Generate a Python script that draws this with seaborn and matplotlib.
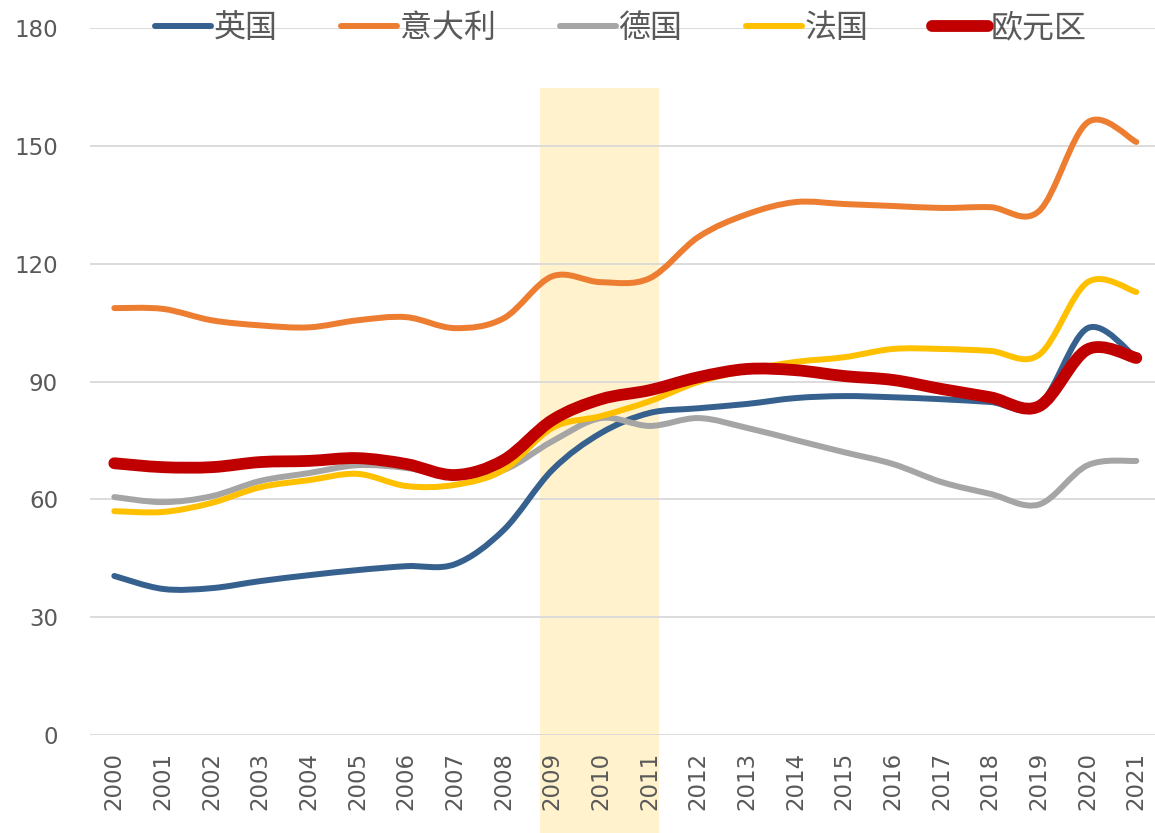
import matplotlib
matplotlib.use("Agg")
import matplotlib.pyplot as plt
from matplotlib.path import Path
from matplotlib.patches import PathPatch
import seaborn as sns
import numpy as np
import pandas as pd

# 数据
years = list(range(2000, 2022))
uk = [40.5, 37.2, 37.4, 39.2, 40.7, 42.0, 43.0, 43.5, 52.2, 67.5, 76.9, 82.0,
      83.2, 84.3, 85.8, 86.3, 86.0, 85.5, 84.8, 83.9, 103.6, 96.0]
italy = [108.7, 108.5, 105.6, 104.3, 103.8, 105.6, 106.4, 103.6, 106.1, 116.8, 115.3, 116.3,
         126.8, 132.6, 135.7, 135.2, 134.7, 134.2, 134.4, 133.4, 156.0, 151.0]
germany = [60.6, 59.3, 60.8, 64.7, 66.7, 68.7, 68.0, 65.9, 67.5, 74.8, 80.7, 78.7,
           80.7, 78.2, 75.1, 72.0, 69.0, 64.4, 61.4, 58.7, 68.7, 69.8]
france = [57.0, 56.8, 59.1, 63.1, 64.9, 66.5, 63.4, 63.7, 67.5, 78.2, 81.2, 85.0,
          89.9, 92.9, 95.0, 96.2, 98.3, 98.3, 97.8, 96.8, 115.3, 112.8]
euro = [69.2, 68.2, 68.2, 69.5, 69.8, 70.5, 69.0, 66.2, 70.0, 80.2, 85.5, 87.8,
        91.1, 93.2, 92.9, 91.4, 90.4, 88.1, 86.0, 83.7, 98.2, 96.0]

names = ["英国", "意大利", "德国", "法国", "欧元区"]
series = [uk, italy, germany, france, euro]
colors = ["#36618F", "#ED7D31", "#A5A5A5", "#FFC000", "#C00000"]
widths = [4.3, 4.3, 4.3, 4.3, 8.5]

crisis_start, crisis_end = 2008.75, 2011.2
yticks = [0, 30, 60, 90, 120, 150, 180]

df = pd.DataFrame({"year": years})
for n, s in zip(names, series):
    df[n] = s

sns.set_style("white")
plt.rcParams['font.family'] = ['DejaVu Sans', 'Noto Sans CJK SC']
text_color = "#595959"


def smooth_path(xy):
    """平滑曲线 (类似 Excel 的平滑线)"""
    pts = np.asarray(xy, dtype=float)
    n = len(pts)
    verts = [pts[0]]
    codes = [Path.MOVETO]
    for i in range(n - 1):
        p_prev = pts[i - 1] if i > 0 else pts[i]
        p_next2 = pts[i + 2] if i + 2 < n else pts[i + 1]
        c1 = pts[i] + (pts[i + 1] - p_prev) / 6.0
        c2 = pts[i + 1] - (p_next2 - pts[i]) / 6.0
        verts += [c1, c2, pts[i + 1]]
        codes += [Path.CURVE4] * 3
    return Path(verts, codes)


fig = plt.figure(figsize=(11.55, 8.33), dpi=100)
ax = fig.add_axes([0.0779, 0.1176, 0.927, 0.8487])

for n, c, w in zip(names, colors, widths):
    sns.lineplot(data=df, x="year", y=n, color=c, linewidth=w, label=n, ax=ax,
                 solid_capstyle="round")

ax.set_xlim(1999.5, 2021.5)
ax.set_ylim(0, 180)
ax.set_yticks(yticks)
ax.set_xticks(years)
ax.set_xticklabels([str(y) for y in years], rotation=90)
ax.set_xlabel("")
ax.set_ylabel("")

# 网格线
ax.grid(axis="y", color="#D9D9D9", linewidth=1.3, zorder=1)
ax.set_axisbelow(True)
for s in ax.spines.values():
    s.set_visible(False)
ax.tick_params(axis="both", length=0, labelsize=16.5, labelcolor=text_color)
ax.tick_params(axis="y", pad=23)
ax.tick_params(axis="x", pad=12)

# 危机阴影
ax.axvspan(crisis_start, crisis_end, ymin=-0.14, ymax=0.915, color="#FFF2CC",
           clip_on=False, zorder=0, linewidth=0)

leg = ax.legend(loc="center", bbox_to_anchor=(0.496, 1.0), ncol=5, frameon=False,
                handlelength=1.75, handletextpad=0.08, columnspacing=2.0,
                labelcolor=text_color, prop={"family": ["Noto Sans CJK SC"], "size": 23})

# 用平滑曲线替换折线
for line in list(ax.lines):
    patch = PathPatch(smooth_path(line.get_xydata()), facecolor="none",
                      edgecolor=line.get_color(), linewidth=line.get_linewidth(),
                      capstyle="round", joinstyle="round", zorder=3)
    ax.add_patch(patch)
    line.remove()

fig.savefig("out.png", dpi=100)
